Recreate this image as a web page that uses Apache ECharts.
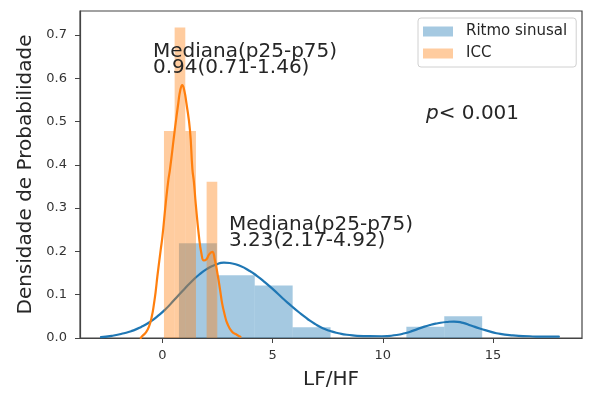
<!DOCTYPE html>
<html><head><meta charset="utf-8">
<script src="https://cdn.jsdelivr.net/npm/echarts@6/dist/echarts.min.js"></script>
<style>html,body{margin:0;padding:0;background:#fff}#c{width:589px;height:394px}</style>
</head><body><div id="c"></div>
<script>
const FONT = 'DejaVu Sans';
const seriesNames = ['Ritmo sinusal', 'ICC'];

// Histogram bins (density)
const blueEdges = [0.75, 2.47, 4.19, 5.91, 7.63, 9.35, 11.07, 12.79, 14.51];
const blueHeights = [0.219, 0.145, 0.121, 0.025, 0, 0, 0.026, 0.05];
const orangeEdges = [0.07, 0.554, 1.038, 1.522, 2.006, 2.49];
const orangeHeights = [0.478, 0.717, 0.478, 0, 0.361];

// KDE curves
const blueKdeX = [-2.79, -2.3, -1.74, -1.35, -0.98, -0.6, -0.23, 0.15, 0.52, 0.9, 1.28, 1.66, 2.04, 2.41, 2.79, 3.17, 3.54, 3.92, 4.3, 4.67, 5.05, 5.43, 5.81, 6.18, 6.56, 6.94, 7.31, 7.62, 7.99, 8.37, 9.12, 9.95, 10.63, 11.0, 11.38, 11.76, 12.14, 12.5, 12.9, 13.23, 13.65, 14.0, 14.4, 14.8, 15.16, 15.9, 16.67, 17.42, 17.99];
const blueKdeY = [0.002, 0.005, 0.011, 0.017, 0.025, 0.036, 0.05, 0.067, 0.087, 0.108, 0.128, 0.146, 0.16, 0.169, 0.174, 0.172, 0.166, 0.156, 0.143, 0.128, 0.111, 0.093, 0.076, 0.06, 0.045, 0.032, 0.022, 0.016, 0.011, 0.0075, 0.0045, 0.004, 0.007, 0.011, 0.017, 0.024, 0.03, 0.034, 0.037, 0.038, 0.035, 0.029, 0.022, 0.016, 0.011, 0.006, 0.004, 0.003, 0.003];
const orangeKdeX = [-0.98, -0.9, -0.75, -0.61, -0.48, -0.38, -0.3, -0.23, -0.08, 0.0, 0.15, 0.27, 0.34, 0.56, 0.72, 0.81, 0.9, 0.99, 1.09, 1.25, 1.36, 1.43, 1.51, 1.66, 1.77, 1.88, 2.0, 2.12, 2.26, 2.38, 2.52, 2.62, 2.71, 2.82, 2.94, 3.15, 3.39, 3.54];
const orangeKdeY = [0.0, 0.005, 0.013, 0.026, 0.05, 0.08, 0.11, 0.142, 0.203, 0.234, 0.311, 0.365, 0.388, 0.48, 0.542, 0.572, 0.584, 0.572, 0.542, 0.48, 0.39, 0.36, 0.311, 0.234, 0.195, 0.179, 0.182, 0.193, 0.199, 0.18, 0.142, 0.11, 0.08, 0.055, 0.034, 0.015, 0.007, 0.003];

const xTicks = [0, 5, 10, 15];
const yTicks = [0, 0.1, 0.2, 0.3, 0.4, 0.5, 0.6, 0.7];
const annoICC = ['Mediana(p25-p75)', '0.94(0.71-1.46)'];
const annoRS = ['Mediana(p25-p75)', '3.23(2.17-4.92)'];
const pText = '{i|p}< 0.001';

const BLUE = '#1f77b4', ORANGE = '#ff7f0e';
const BLUE_A = 'rgba(31,119,180,0.4)', ORANGE_A = 'rgba(255,127,14,0.4)';
const TXT = '#262626';

function bins(edges, heights) { return heights.map((h, i) => [edges[i], edges[i + 1], h]); }
function pairs(xs, ys) { return xs.map((x, i) => [x, ys[i]]); }
function renderBar(params, api) {
  const p0 = api.coord([api.value(0), api.value(2)]);
  const p1 = api.coord([api.value(1), 0]);
  return { type: 'rect', shape: { x: p0[0], y: p0[1], width: p1[0] - p0[0], height: p1[1] - p0[1] },
    style: { fill: api.visual('color') } };
}

const chart = echarts.init(document.getElementById('c'), null, { renderer: 'canvas' });
chart.setOption({
  animation: false,
  backgroundColor: '#fff',
  grid: { left: 80, right: 7, top: 11, bottom: 56, show: true, borderColor: '#444', borderWidth: 1.2, outerBoundsMode: 'none' },
  legend: {
    data: seriesNames, orient: 'vertical', left: 418, top: 18,
    padding: [6, 9, 6, 5], itemGap: 7, itemWidth: 30, itemHeight: 10, icon: 'rect',
    borderColor: '#d0d0d0', borderWidth: 1, borderRadius: 3, backgroundColor: 'rgba(255,255,255,0.8)',
    textStyle: { fontFamily: FONT, fontSize: 15, color: TXT, padding: [0, 0, 0, 8] }
  },
  xAxis: {
    type: 'value', min: -3.74, max: 19.04,
    splitLine: { show: false },
    axisLine: { show: true, onZero: false, lineStyle: { color: '#444', width: 1.2 } },
    axisTick: { show: true, length: 5, lineStyle: { color: '#444' }, customValues: xTicks },
    axisLabel: { customValues: xTicks, fontSize: 13, color: '#333', fontFamily: FONT, margin: 11 },
    name: 'LF/HF', nameLocation: 'middle', nameGap: 32,
    nameTextStyle: { fontSize: 20, fontFamily: FONT, color: TXT }
  },
  yAxis: {
    type: 'value', min: 0, max: 0.755,
    splitLine: { show: false },
    axisLine: { show: true, onZero: false, lineStyle: { color: '#444', width: 1.2 } },
    axisTick: { show: true, length: 5, lineStyle: { color: '#444' }, customValues: yTicks },
    axisLabel: { customValues: yTicks, fontSize: 13, color: '#333', fontFamily: FONT, margin: 13,
      formatter: v => v.toFixed(1) },
    name: 'Densidade de Probabilidade', nameLocation: 'middle', nameRotate: 90, nameGap: 43,
    nameTextStyle: { fontSize: 20, fontFamily: FONT, color: TXT }
  },
  series: [
    { name: seriesNames[0], type: 'custom', renderItem: renderBar, data: bins(blueEdges, blueHeights),
      encode: { x: [0, 1], y: 2 }, itemStyle: { color: BLUE_A }, z: 2 },
    { name: 'kde_rs', type: 'line', data: pairs(blueKdeX, blueKdeY), showSymbol: false, smooth: 0.6,
      lineStyle: { color: BLUE, width: 2.2, cap: 'round', join: 'round' }, itemStyle: { color: BLUE }, z: 3 },
    { name: seriesNames[1], type: 'custom', renderItem: renderBar, data: bins(orangeEdges, orangeHeights),
      encode: { x: [0, 1], y: 2 }, itemStyle: { color: ORANGE_A }, z: 4 },
    { name: 'kde_icc', type: 'line', data: pairs(orangeKdeX, orangeKdeY), showSymbol: false, smooth: 0.5,
      lineStyle: { color: ORANGE, width: 2.2, cap: 'round', join: 'round' }, itemStyle: { color: ORANGE }, z: 5 }
  ],
  graphic: [
    { type: 'text', x: 153, y: 52, z: 10, style: { text: annoICC[0], fontSize: 20, fontFamily: FONT, fill: TXT, verticalAlign: 'middle', align: 'left' } },
    { type: 'text', x: 153, y: 68, z: 10, style: { text: annoICC[1], fontSize: 20, fontFamily: FONT, fill: TXT, verticalAlign: 'middle', align: 'left' } },
    { type: 'text', x: 229, y: 225, z: 10, style: { text: annoRS[0], fontSize: 20, fontFamily: FONT, fill: TXT, verticalAlign: 'middle', align: 'left' } },
    { type: 'text', x: 229, y: 241, z: 10, style: { text: annoRS[1], fontSize: 20, fontFamily: FONT, fill: TXT, verticalAlign: 'middle', align: 'left' } },
    { type: 'text', x: 426, y: 114, z: 10, style: { text: pText, fontSize: 20, fontFamily: FONT, fill: TXT, verticalAlign: 'middle', align: 'left',
      rich: { i: { fontStyle: 'italic', fontSize: 20, fontFamily: FONT, fill: TXT } } } }
  ]
});
</script>
</body></html>
